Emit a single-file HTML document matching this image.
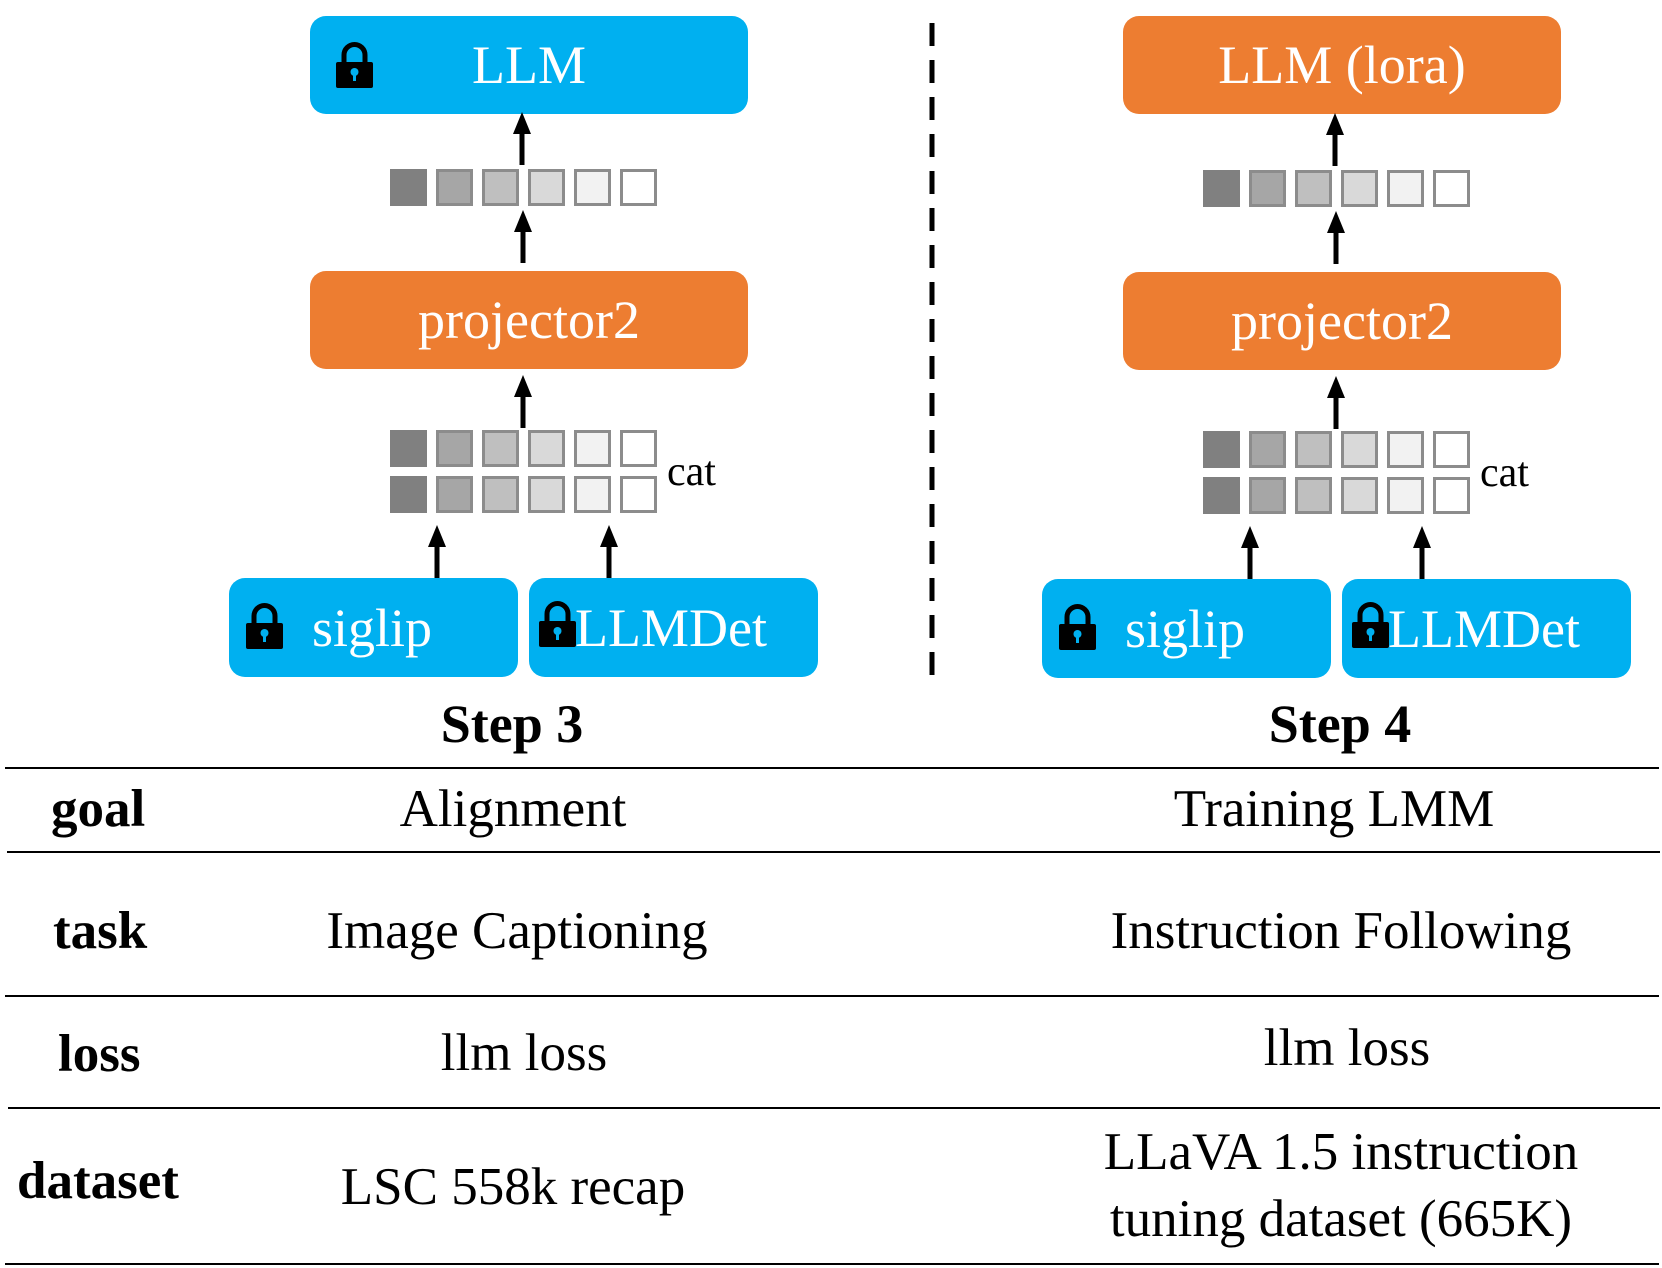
<!DOCTYPE html>
<html><head><meta charset="utf-8"><style>
html,body{margin:0;padding:0;background:#fff}
svg{display:block}
text{font-family:"Liberation Serif",serif}
</style></head><body>
<svg width="1662" height="1268" viewBox="0 0 1662 1268" xmlns="http://www.w3.org/2000/svg">
<defs>
<g id="lock">
<path d="M8,21 V12 a10.5,10.5 0 0 1 21,0 V21" fill="none" stroke="#000" stroke-width="5"/>
<rect x="0" y="19" width="37" height="26" rx="2" fill="#000"/>
<circle cx="18.5" cy="29" r="4" fill="#00B0F0"/>
<rect x="17" y="30" width="3" height="8" fill="#00B0F0"/>
</g>
<g id="arrow">
<line x1="0" y1="0" x2="0" y2="-36" stroke="#000" stroke-width="5"/>
<polygon points="-9,-31 9,-31 0,-53" fill="#000"/>
</g>
<g id="row">
<rect x="0" y="0" width="37" height="37" fill="#808080"/>
<rect x="47.5" y="1.5" width="34" height="34" fill="#a6a6a6" stroke="#8c8c8c" stroke-width="3"/>
<rect x="93.5" y="1.5" width="34" height="34" fill="#bfbfbf" stroke="#8c8c8c" stroke-width="3"/>
<rect x="139.5" y="1.5" width="34" height="34" fill="#d9d9d9" stroke="#8c8c8c" stroke-width="3"/>
<rect x="185.5" y="1.5" width="34" height="34" fill="#f2f2f2" stroke="#8c8c8c" stroke-width="3"/>
<rect x="231.5" y="1.5" width="34" height="34" fill="#ffffff" stroke="#8c8c8c" stroke-width="3"/>
</g>
<g id="panelcommon">
<rect x="310" y="271" width="438" height="98" rx="16" fill="#ED7D31"/>
<text x="529" y="338" font-size="54" fill="#fff" text-anchor="middle">projector2</text>
<use href="#row" x="390" y="169"/>
<use href="#row" x="390" y="430"/>
<use href="#row" x="390" y="476"/>
<text x="667" y="485" font-size="42" fill="#000">cat</text>
<use href="#arrow" x="522" y="165"/>
<use href="#arrow" x="523" y="263"/>
<use href="#arrow" x="523" y="428"/>
<use href="#arrow" x="437" y="578"/>
<use href="#arrow" x="609" y="578"/>
<rect x="229" y="578" width="289" height="99" rx="16" fill="#00B0F0"/>
<rect x="529" y="578" width="289" height="99" rx="16" fill="#00B0F0"/>
<use href="#lock" x="246" y="604"/>
<use href="#lock" x="539" y="602"/>
<text x="312" y="646" font-size="54" fill="#fff">siglip</text>
<text x="575" y="646" font-size="54" fill="#fff">LLMDet</text>
</g>
</defs>

<rect x="310" y="16" width="438" height="98" rx="16" fill="#00B0F0"/>
<use href="#lock" x="336" y="43"/>
<text x="529" y="83" font-size="54" fill="#fff" text-anchor="middle">LLM</text>
<use href="#panelcommon"/>
<text x="512" y="742" font-size="54" font-weight="bold" text-anchor="middle">Step 3</text>

<g transform="translate(813,1)">
<rect x="310" y="15" width="438" height="98" rx="16" fill="#ED7D31"/>
<text x="529" y="82" font-size="54" fill="#fff" text-anchor="middle">LLM (lora)</text>
<use href="#panelcommon"/>
</g>
<text x="1340" y="742" font-size="54" font-weight="bold" text-anchor="middle">Step 4</text>

<line x1="932" y1="23" x2="932" y2="677" stroke="#000" stroke-width="5" stroke-dasharray="23 14"/>

<g stroke="#000" stroke-width="2">
<line x1="5" y1="768" x2="1659" y2="768"/>
<line x1="7" y1="852" x2="1660" y2="852"/>
<line x1="5" y1="996" x2="1659" y2="996"/>
<line x1="8" y1="1108" x2="1660" y2="1108"/>
<line x1="5" y1="1264" x2="1659" y2="1264"/>
</g>
<g font-size="53" font-weight="bold">
<text x="51" y="826">goal</text>
<text x="53" y="948">task</text>
<text x="58" y="1071">loss</text>
<text x="17" y="1198">dataset</text>
</g>
<g font-size="53" text-anchor="middle">
<text x="513" y="826">Alignment</text>
<text x="1334" y="826">Training LMM</text>
<text x="517" y="948">Image Captioning</text>
<text x="1341" y="948">Instruction Following</text>
<text x="524" y="1070">llm loss</text>
<text x="1347" y="1065">llm loss</text>
<text x="513" y="1204">LSC 558k recap</text>
<text x="1341" y="1169">LLaVA 1.5 instruction</text>
<text x="1341" y="1236">tuning dataset (665K)</text>
</g>
</svg>
</body></html>
